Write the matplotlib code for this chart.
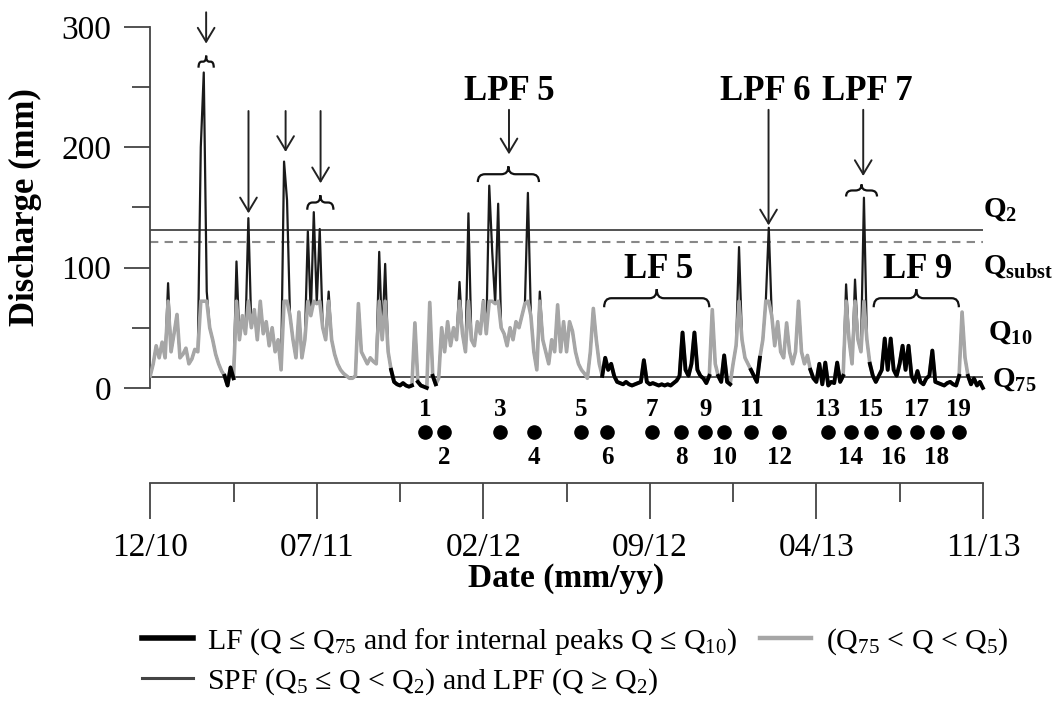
import numpy as np
import matplotlib.pyplot as plt
from matplotlib.path import Path
from matplotlib.patches import PathPatch
from matplotlib.lines import Line2D

plt.rcParams['font.family'] = ['Liberation Serif', 'DejaVu Serif']
plt.rcParams['mathtext.fontset'] = 'custom'
plt.rcParams['mathtext.rm'] = 'Liberation Serif'
plt.rcParams['mathtext.it'] = 'Liberation Serif:italic'
plt.rcParams['mathtext.bf'] = 'Liberation Serif:bold'

# discharge (mm), one value every 1/8 month starting 12/10
discharge = [
    10, 20, 35, 25, 38, 25, 87, 30, 45, 61, 25, 28, 33, 20, 24, 32, 30, 200, 262, 80,
    50, 40, 28, 20, 14, 10, 2, 17, 8, 105, 40, 60, 45, 141, 50, 65, 40, 72, 45, 55,
    35, 50, 30, 40, 15, 188, 156, 60, 40, 25, 63, 25, 40, 130, 60, 146, 70, 132, 50, 40,
    80, 40, 28, 20, 15, 12, 10, 8, 8, 10, 70, 30, 25, 20, 25, 22, 20, 113, 40, 103,
    30, 15, 5, 3, 2, 4, 2, 1, 2, 54, 5, 2, 1, 0, 71, 10, 3, 8, 50, 30,
    55, 35, 50, 40, 88, 45, 30, 145, 40, 35, 55, 45, 73, 45, 168, 113, 70, 153, 50, 45,
    35, 50, 40, 55, 50, 60, 70, 162, 60, 30, 15, 80, 40, 30, 20, 40, 30, 69, 30, 55,
    30, 55, 47, 30, 20, 15, 12, 8, 30, 66, 40, 20, 10, 25, 15, 20, 10, 5, 4, 3,
    5, 3, 2, 3, 4, 5, 23, 5, 3, 4, 3, 2, 3, 2, 3, 2, 4, 6, 10, 46,
    15, 10, 20, 46, 15, 10, 8, 4, 10, 65, 20, 10, 5, 27, 5, 3, 20, 35, 117, 40,
    25, 20, 15, 10, 5, 25, 40, 72, 133, 60, 35, 55, 30, 25, 54, 30, 20, 30, 72, 30,
    20, 27, 15, 8, 5, 20, 3, 21, 2, 5, 4, 21, 5, 10, 86, 40, 20, 90, 40, 30,
    158, 40, 20, 10, 5, 10, 15, 41, 15, 41, 15, 10, 20, 35, 15, 35, 10, 5, 14, 5,
    3, 8, 10, 31, 5, 4, 3, 2, 4, 5, 3, 2, 10, 63, 25, 10, 3, 8, 2, 5, 0,
]
q2 = 131
q_subst = 121
q5 = 72
q75 = 9

# low-flow periods (months since 12/10)
lf_start = [3.125, 10.125, 11.25, 11.875, 19.0, 23.875, 25.25, 27.75, 30.25, 34.375]
lf_end = [3.5, 11.0, 11.625, 12.0, 23.5, 24.375, 25.625, 29.125, 34.0, 35.0]

# numbered events
event_month = [11.54, 12.34, 14.70, 16.13, 18.11, 19.21, 21.10, 22.32, 23.33, 24.13,
               25.27, 26.45, 28.47, 29.44, 30.28, 31.25, 32.22, 33.06, 33.99]

# arrows pointing at peak flows
arrow_month = [2.35, 4.13, 5.69, 7.16, 15.08, 25.99, 29.97]
arrow_top = [312, 230, 230, 230, 231, 231, 231]
arrow_tip = [286, 145, 196, 170, 194, 135, 176]

# braces
brace_from = [2.03, 6.6, 13.77, 19.08, 29.25, 30.41]
brace_to = [2.67, 7.7, 16.34, 23.5, 30.55, 33.99]
brace_base = [266, 148, 171, 67, 159, 67]
brace_peak = [276, 160, 184, 82, 169, 82]

flow_labels = ['LPF 5', 'LPF 6', 'LPF 7', 'LF 5', 'LF 9']
flow_label_month = [15.1, 25.85, 30.15, 21.35, 32.26]
flow_label_q = [246, 246, 246, 98, 98]

date_ticks = [0, 7, 14, 21, 28, 35]
date_labels = ['12/10', '07/11', '02/12', '09/12', '04/13', '11/13']

q = np.array(discharge, dtype=float)
months = np.arange(len(q)) / 8

lf = np.zeros(len(q), dtype=bool)
for s, e in zip(lf_start, lf_end):
    lf |= (months >= s - 1e-9) & (months <= e + 1e-9)


def brace(ax, x0, x1, yb, yt):
    xc = (x0 + x1) / 2
    ym = (yb + yt) / 2
    w = min(0.3, (x1 - x0) / 5)
    verts = [(x0, yb), (x0, ym), (x0 + w, ym), (xc - w, ym), (xc, ym), (xc, yt),
             (xc, ym), (xc + w, ym), (x1 - w, ym), (x1, ym), (x1, yb)]
    codes = [Path.MOVETO, Path.CURVE3, Path.CURVE3, Path.LINETO, Path.CURVE3, Path.CURVE3,
             Path.CURVE3, Path.CURVE3, Path.LINETO, Path.CURVE3, Path.CURVE3]
    ax.add_patch(PathPatch(Path(verts, codes), fc='none', ec='#111111', lw=1.6,
                           clip_on=False))


fig = plt.figure(figsize=(10.58, 7.04), dpi=100)
ax = fig.add_axes([0.142, 0.449, 0.787, 0.513])

ax.axhline(q2, color='#444444', lw=1.3, zorder=1)
ax.axhline(q_subst, color='#888888', lw=1.5, ls=(0, (4, 3)), zorder=1)
ax.axhline(q75, color='#444444', lw=1.3, zorder=1)

ax.plot(months, q, color='#1a1a1a', lw=1.6, zorder=2)
ax.plot(months, np.minimum(q, q5), color='#a6a6a6', lw=2.6, zorder=3)
ax.plot(months, np.where(lf, q, np.nan), color='black', lw=2.8, zorder=4,
        clip_on=False)

for x, top, tip in zip(arrow_month, arrow_top, arrow_tip):
    ax.annotate('', xy=(x, tip), xytext=(x, top), annotation_clip=False,
                arrowprops=dict(arrowstyle='->,head_length=0.5,head_width=0.3',
                                mutation_scale=20, color='#222222', lw=1.4,
                                shrinkA=0, shrinkB=0))

for x0, x1, yb, yt in zip(brace_from, brace_to, brace_base, brace_peak):
    brace(ax, x0, x1, yb, yt)

for s, x, y in zip(flow_labels, flow_label_month, flow_label_q):
    ax.text(x, y, s, ha='center', va='center', fontsize=25, fontweight='bold')

ax.text(35.0, 148, r'$\mathbf{Q_{2}}$', fontsize=21, va='center', ha='left')
ax.text(35.0, 101, r'$\mathbf{Q_{subst}}$', fontsize=21, va='center', ha='left')
ax.text(35.2, 46, r'$\mathbf{Q_{10}}$', fontsize=21, va='center', ha='left')
ax.text(35.4, 7, r'$\mathbf{Q_{75}}$', fontsize=21, va='center', ha='left')

ax.plot(event_month, [-37] * len(event_month), 'o', color='black', ms=9.5,
        clip_on=False)
for i, x in enumerate(event_month):
    n = i + 1
    y = -18 if n % 2 else -58
    ax.text(x, y, str(n), ha='center', va='center', fontsize=18, fontweight='bold')

ax.set_xlim(0, 35)
ax.set_ylim(0, 300)
ax.set_yticks([0, 100, 200, 300])
ax.set_yticks([50, 150, 250], minor=True)
ax.set_xticks([])
for side in ['top', 'right', 'bottom']:
    ax.spines[side].set_visible(False)
ax.spines['left'].set_color('#444444')
ax.spines['left'].set_linewidth(1.3)
ax.tick_params(axis='y', which='major', length=19, width=1.3, color='#444444',
               labelsize=24, pad=9)
ax.tick_params(axis='y', which='minor', length=13, width=1.3, color='#444444')
ax.set_ylabel('Discharge (mm)', fontsize=25, fontweight='bold', labelpad=14)

ax2 = fig.add_axes([0.142, 0.314, 0.787, 0.001])
ax2.set_xlim(0, 35)
ax2.set_xticks(date_ticks)
ax2.set_xticklabels(date_labels)
ax2.set_xticks([3.5, 10.5, 17.5, 24.5, 31.5], minor=True)
ax2.set_yticks([])
for side in ['top', 'right', 'left']:
    ax2.spines[side].set_visible(False)
ax2.spines['bottom'].set_color('#444444')
ax2.spines['bottom'].set_linewidth(1.3)
ax2.tick_params(axis='x', which='major', length=26, width=1.3, color='#444444',
                labelsize=24, pad=10)
ax2.tick_params(axis='x', which='minor', length=14, width=1.3, color='#444444')
ax2.set_xlabel('Date (mm/yy)', fontsize=24, fontweight='bold', labelpad=0)

handles = [Line2D([], [], color='black', lw=4),
           Line2D([], [], color='#444444', lw=2.2),
           Line2D([], [], color='#a6a6a6', lw=3.2)]
labels = ['LF (Q ≤ Q$_{75}$ and for internal peaks Q ≤ Q$_{10}$)',
          'SPF (Q$_{5}$ ≤ Q < Q$_{2}$) and LPF (Q ≥ Q$_{2}$)',
          '(Q$_{75}$ < Q < Q$_{5}$)']
fig.legend(handles, labels, ncol=2, loc='upper left', bbox_to_anchor=(0.134, 0.110),
           frameon=False, fontsize=21.5, handlelength=1.7, handletextpad=0.5,
           columnspacing=0.75, labelspacing=0.3, borderaxespad=0, borderpad=0)

fig.savefig('out.png', dpi=100)
